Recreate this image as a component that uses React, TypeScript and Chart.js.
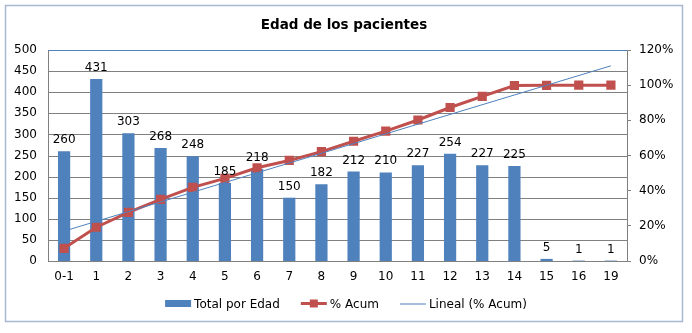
import React, { useEffect, useRef } from "react";
import { Chart, registerables } from "chart.js";

Chart.register(...registerables);

const categories = ["0-1", "1", "2", "3", "4", "5", "6", "7", "8", "9", "10", "11", "12", "13", "14", "15", "16", "19"];
const totals = [260, 431, 303, 268, 248, 185, 218, 150, 182, 212, 210, 227, 254, 227, 225, 5, 1, 1];
const cumPct = [7.2, 19.2, 27.6, 35.0, 41.9, 47.0, 53.0, 57.2, 62.2, 68.1, 73.9, 80.2, 87.3, 93.6, 99.8, 99.9, 100, 100];
const trendStart = 17;
const trendEnd = 111;
const titleText = "Edad de los pacientes";
const seriesNames = ["Total por Edad", "% Acum", "Lineal (% Acum)"];

const FONT = "'DejaVu Sans', Verdana, sans-serif";
const BLUE = "#4F81BD";
const RED = "#C0504D";
const GRID = "#808080";

const trendData: (number | null)[] = categories.map((_, i) =>
  i === 0 ? trendStart : i === categories.length - 1 ? trendEnd : null
);

const decorPlugin = {
  id: "decor",
  beforeDraw(chart: any) {
    const ctx = chart.ctx;
    const a = chart.chartArea;
    const ys = chart.scales.y;
    ctx.save();
    ctx.fillStyle = "#ffffff";
    ctx.fillRect(0, 0, chart.width, chart.height);
    ctx.strokeStyle = "#A7B9D1";
    ctx.lineWidth = 1.5;
    ctx.strokeRect(5.5, 5.5, 677, 316);
    ctx.fillStyle = "#000";
    ctx.font = `bold 13.5px ${FONT}`;
    ctx.textAlign = "center";
    ctx.textBaseline = "alphabetic";
    ctx.fillText(titleText, 344, 29);
    if (a && ys) {
      const L = Math.round(a.left);
      const R = Math.round(a.right);
      for (let v = 0; v <= 500; v += 50) {
        const y = Math.round(ys.getPixelForValue(v));
        ctx.fillStyle = v === 500 ? BLUE : GRID;
        ctx.fillRect(L, y, R - L + 1, 1);
      }
      const T = Math.round(a.top);
      const B = Math.round(a.bottom);
      ctx.fillStyle = GRID;
      ctx.fillRect(L, T, 1, B - T + 1);
      ctx.fillRect(R, T, 1, B - T + 1);
    }
    ctx.restore();
  },
  afterDatasetsDraw(chart: any) {
    const ctx = chart.ctx;
    const meta = chart.getDatasetMeta(2);
    ctx.save();
    ctx.fillStyle = "#000";
    ctx.font = `12px ${FONT}`;
    ctx.textAlign = "center";
    ctx.textBaseline = "alphabetic";
    meta.data.forEach((bar: any, i: number) => {
      ctx.fillText(String(totals[i]), bar.x, bar.y - 8);
    });
    ctx.restore();
  },
  afterDraw(chart: any) {
    const ctx = chart.ctx;
    ctx.save();
    ctx.font = `12px ${FONT}`;
    ctx.textBaseline = "middle";
    ctx.textAlign = "left";
    const sym = 26;
    const symGap = 3;
    const itemGap = 21;
    const widths = seriesNames.map((n) => ctx.measureText(n).width);
    const total = widths.reduce((acc, w) => acc + sym + symGap + w, 0) + itemGap * (seriesNames.length - 1);
    let x = 346 - total / 2;
    const y = 303.5;
    seriesNames.forEach((name, i) => {
      if (i === 0) {
        ctx.fillStyle = BLUE;
        ctx.fillRect(x, y - 3.5, sym, 7);
      } else if (i === 1) {
        ctx.strokeStyle = RED;
        ctx.lineWidth = 3;
        ctx.beginPath();
        ctx.moveTo(x, y);
        ctx.lineTo(x + sym, y);
        ctx.stroke();
        ctx.fillStyle = RED;
        ctx.fillRect(x + sym / 2 - 4, y - 4, 8, 8);
      } else {
        ctx.strokeStyle = BLUE;
        ctx.lineWidth = 1;
        ctx.beginPath();
        ctx.moveTo(x, y + 0.5);
        ctx.lineTo(x + sym, y + 0.5);
        ctx.stroke();
      }
      x += sym + symGap;
      ctx.fillStyle = "#000";
      ctx.fillText(name, x, y + 1);
      x += widths[i] + itemGap;
    });
    ctx.restore();
  },
};

export default function App() {
  const canvasRef = useRef<HTMLCanvasElement | null>(null);

  useEffect(() => {
    if (!canvasRef.current) return;
    const chart = new Chart(canvasRef.current, {
      type: "bar",
      data: {
        labels: categories,
        datasets: [
          {
            type: "line",
            label: seriesNames[2],
            data: trendData,
            yAxisID: "y1",
            borderColor: BLUE,
            borderWidth: 1,
            pointRadius: 0,
            spanGaps: true,
            fill: false,
            order: 0,
          } as any,
          {
            type: "line",
            label: seriesNames[1],
            data: cumPct,
            yAxisID: "y1",
            borderColor: RED,
            backgroundColor: RED,
            borderWidth: 3,
            pointStyle: "rect",
            pointRadius: 6.5,
            pointBorderWidth: 0,
            pointBackgroundColor: RED,
            fill: false,
            order: 1,
          } as any,
          {
            type: "bar",
            label: seriesNames[0],
            data: totals,
            yAxisID: "y",
            backgroundColor: BLUE,
            categoryPercentage: 1,
            barPercentage: 0.38,
            order: 2,
          } as any,
        ],
      },
      options: {
        animation: false,
        responsive: false,
        maintainAspectRatio: false,
        layout: { padding: { top: 50, left: 0, right: 0, bottom: 0 } },
        plugins: {
          legend: { display: false },
          tooltip: { enabled: false },
          title: { display: false },
        },
        scales: {
          x: {
            grid: { display: false, drawTicks: false },
            border: { display: false },
            ticks: { color: "#000", font: { family: FONT, size: 12 }, padding: 9, maxRotation: 0, autoSkip: false },
            afterFit(scale: any) {
              scale.height = 72;
            },
          },
          y: {
            position: "left",
            min: 0,
            max: 500,
            ticks: { stepSize: 50, color: "#000", font: { family: FONT, size: 12 }, padding: 11 },
            grid: { display: false, drawTicks: false },
            border: { display: false },
            afterFit(scale: any) {
              scale.width = 48;
            },
          },
          y1: {
            position: "right",
            min: 0,
            max: 120,
            ticks: {
              stepSize: 20,
              color: "#000",
              font: { family: FONT, size: 12 },
              padding: 8,
              callback: (v: any) => `${v}%`,
            },
            grid: { drawOnChartArea: false, drawTicks: true, tickLength: 4, color: GRID },
            border: { display: false },
            afterFit(scale: any) {
              scale.width = 65;
            },
          },
        },
      },
      plugins: [decorPlugin],
    } as any);
    return () => chart.destroy();
  }, []);

  return (
    <div style={{ position: "fixed", left: 0, top: 0, width: 692, height: 333 }}>
      <canvas ref={canvasRef} width={692} height={333} style={{ width: 692, height: 333 }} />
    </div>
  );
}
